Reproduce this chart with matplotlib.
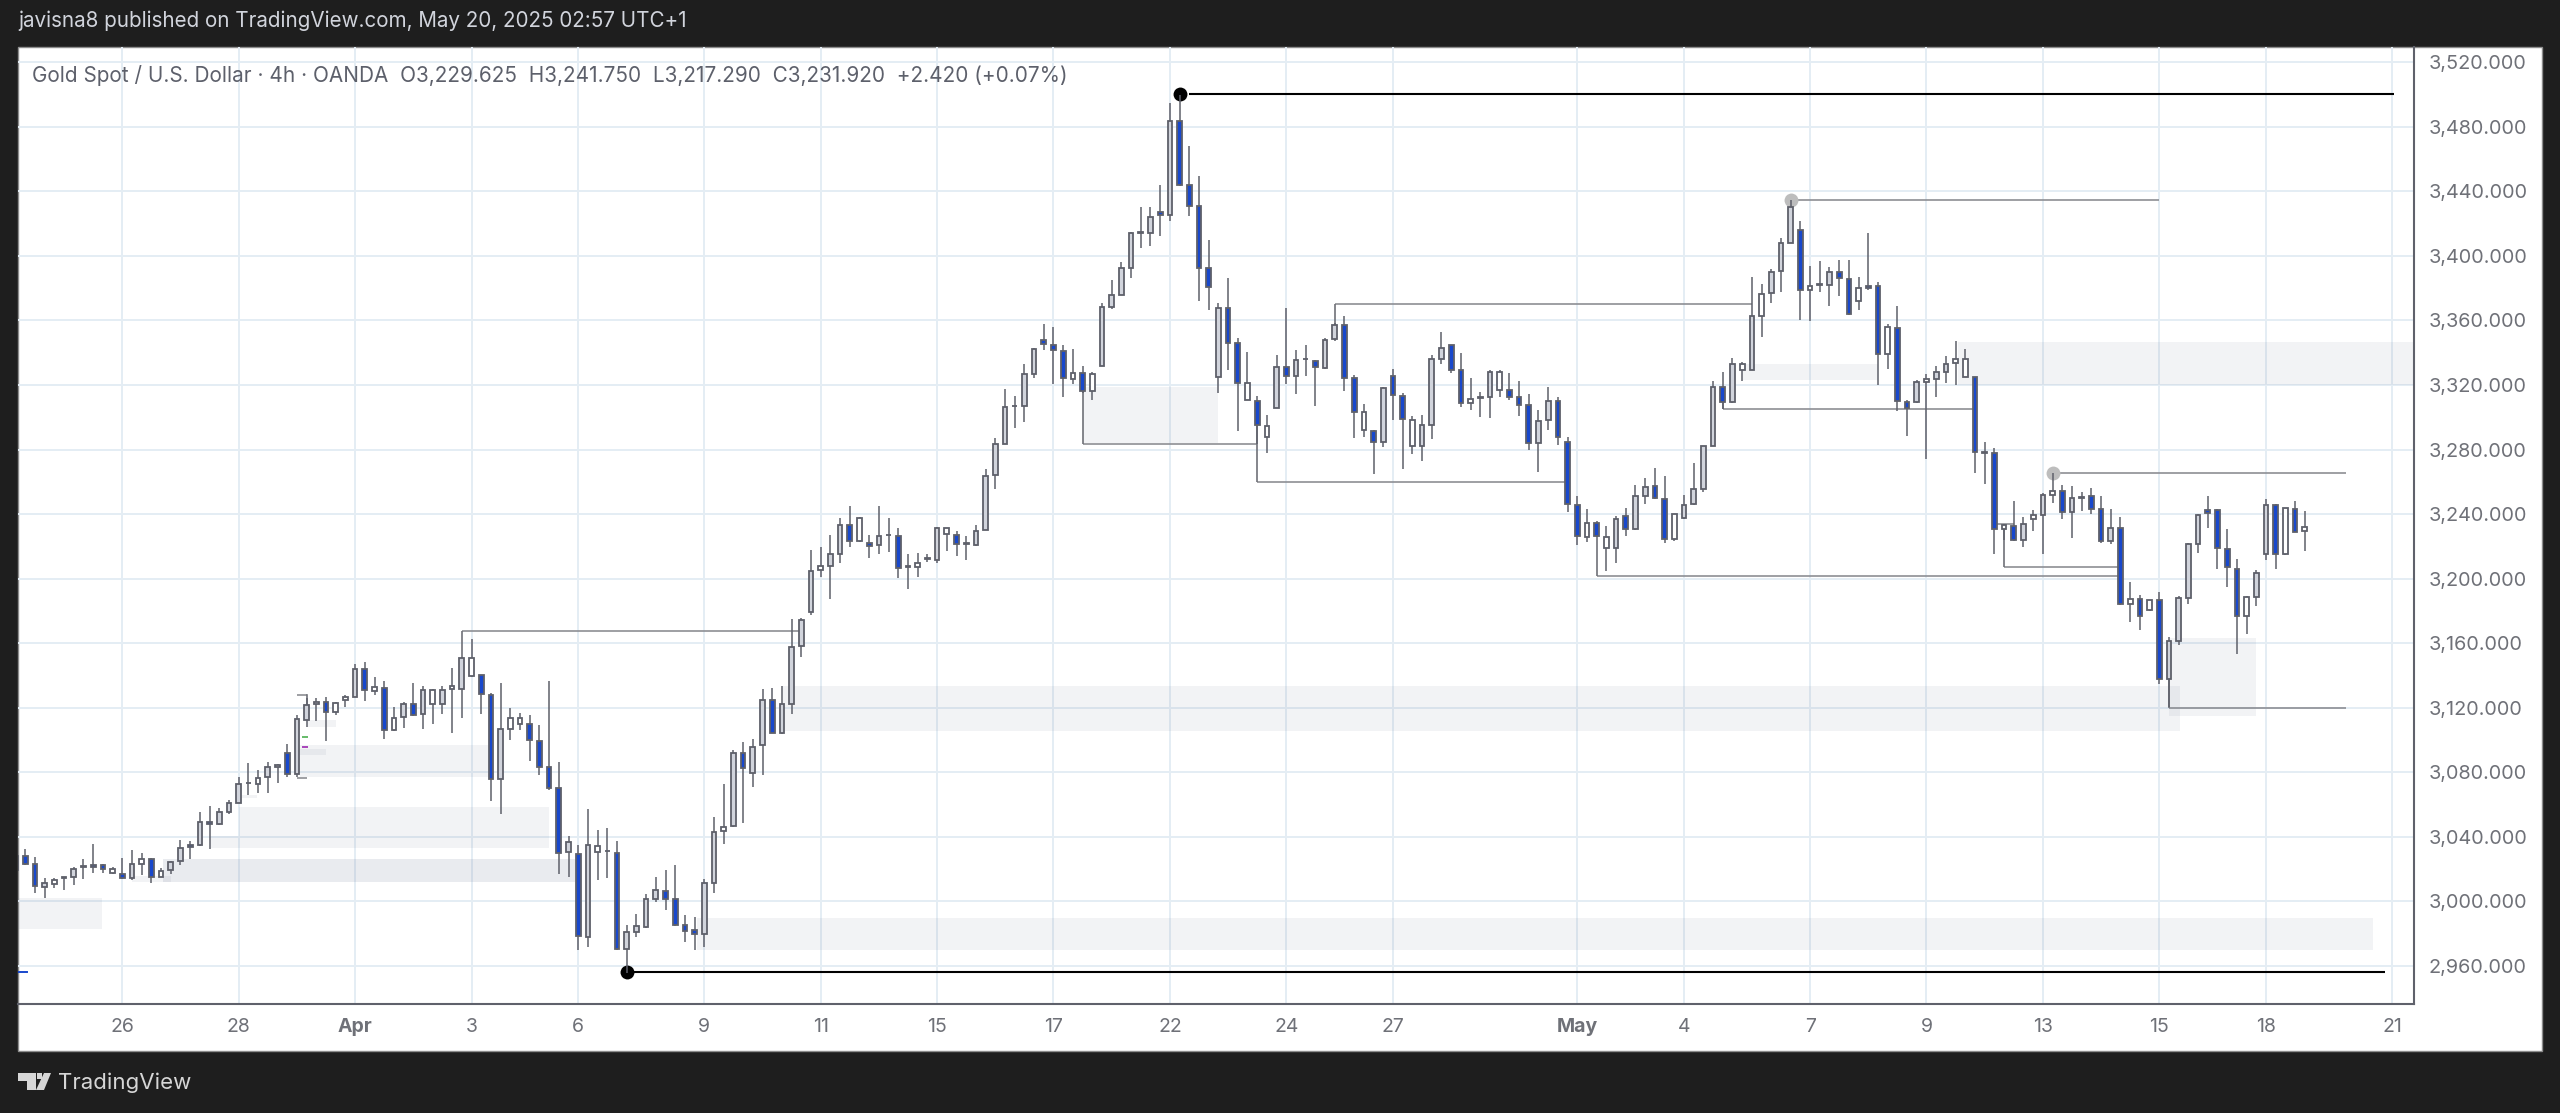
import matplotlib
matplotlib.use("Agg")
import matplotlib.pyplot as plt
from matplotlib.patches import Rectangle, Polygon

plt.rcParams['font.family'] = ['Inter', 'DejaVu Sans']

bar_high = [
 3029.9,3032.4,3027.8,3014.4,3014.4,3015.4,3021.2,3026.2,3035.5,3022.9,
 3021.6,3026.8,3031.6,3029.9,3026.8,3020.6,3025.1,3038.2,3037.5,3055.3,
 3059.3,3057.6,3063,3077,3085.7,3081.4,3086.3,3085.3,3097.7,3115.5,
 3126,3126.2,3126.6,3123.3,3127.7,3147.1,3148.3,3138.8,3136.4,3120.2,
 3123.3,3135.3,3133.3,3131.5,3133.7,3144.6,3151.2,3162.6,3140.5,3128.9,
 3135.3,3119.6,3116.5,3115.5,3109.5,3136.4,3086.7,3040.7,3034.9,3057.2,
 3044,3045.6,3037.5,2985.5,2992.1,3004.5,3015.4,3019.2,3022.5,2991.5,
 2990.4,3013.8,3052.2,3072.7,3094,3099.1,3100.8,3131.6,3132.2,3133.7,
 3175,3175.6,3217.6,3219.8,3226.9,3237.6,3245.3,3238,3226.9,3245.3,
 3237.6,3231.2,3215.5,3216.1,3215.3,3232,3231.6,3229.6,3226.7,3233.3,
 3268,3287.2,3317.5,3313.4,3332.8,3343,3357.6,3356.2,3344.9,3342.3,
 3331.6,3328.3,3370.9,3385.3,3396.3,3415,3430.2,3430.2,3444,3494.5,
 3500,3468,3449.6,3410.1,3370.9,3386.4,3349,3340.3,3313.2,3301.4,
 3338.8,3367.6,3341.5,3344.6,3335.7,3349.4,3358.3,3362.9,3326.5,3308.1,
 3292.4,3319.1,3330,3314.9,3300.7,3301.7,3338.5,3352.7,3344.9,3339.7,
 3324.6,3315.5,3329.2,3329.4,3327.7,3322.4,3314.3,3304.6,3319.1,3312.9,
 3287.6,3251.5,3243,3235.5,3232.4,3239.1,3243.8,3257.9,3262.5,3268.7,
 3263.8,3240.4,3252,3271.8,3282,3322.3,3328.2,3336.9,3334.4,3386.7,
 3382.8,3391.7,3411.3,3434.7,3421.9,3393.8,3397.1,3393.4,3397.5,3397.5,
 3386.7,3414.4,3383.6,3357.8,3369,3310.5,3323.1,3327,3332,3338,
 3347.1,3342.3,3324.9,3284.6,3281.1,3233.8,3248,3238.3,3242.5,3252.8,
 3265.2,3257.8,3257.4,3253.9,3256.3,3251.4,3243.3,3238.4,3197.8,3189.8,
 3187.1,3191.9,3163.9,3189.2,3222.2,3240,3251.4,3243.5,3230.9,3212.5,
 3189.4,3205.3,3249.1,3246.2,3244.1,3248.1,3241.75]

bar_top = [
 3028.3,3028.3,3023.3,3011.3,3013.4,3015.2,3020.4,3021.8,3022.7,3022.7,
 3020.4,3017.3,3023.3,3026.4,3026.4,3018.8,3024.7,3033.4,3035.1,3049.1,
 3049.1,3055.7,3061.1,3072.9,3073.7,3076.6,3083.2,3084.3,3092.3,3113,
 3121.5,3123.7,3123.7,3122.7,3126.6,3144,3144,3133,3132.4,3113.4,
 3122.1,3122.1,3130.8,3130.8,3130.8,3133.5,3150.8,3150.8,3140.1,3128.1,
 3107,3113.8,3113.4,3109.7,3099.4,3083.2,3070.2,3037.1,3029.7,3034.7,
 3034.5,3031.4,3030.3,2980.9,2984.8,3001.6,3006.8,3006.3,3001.6,2985.3,
 2982.2,3011.3,3043.3,3046.4,3091.9,3091.9,3096,3125,3125,3122.1,
 3157.9,3174.6,3205,3207.7,3215.1,3233.1,3233.1,3237.6,3222.3,3226.7,
 3227.3,3226.7,3207.9,3209.9,3212.8,3231.6,3231.4,3227.3,3221.9,3229.4,
 3263.9,3283.3,3306.6,3307.2,3326.6,3342.3,3348.1,3344.8,3341.3,3327.5,
 3327.5,3326.6,3368.2,3375.6,3392.4,3414.3,3414.7,3424,3427.3,3483.9,
 3483.9,3443.8,3431,3392.6,3367.8,3367.8,3345.8,3321,3310.3,3294.6,
 3331,3331,3335.7,3336.3,3335,3348,3357.1,3357.1,3324.2,3303.1,
 3291.8,3318.2,3325.3,3313.5,3298.2,3295.5,3336,3343,3344.7,3329.2,
 3311.2,3312.4,3328.2,3328.2,3317.2,3312.4,3307.5,3297.6,3310.2,3310.2,
 3284.7,3245.9,3234.3,3234.3,3225.6,3237.2,3238.9,3251.3,3257,3257.6,
 3249.5,3239.8,3245.8,3255.5,3282,3319,3318.7,3333.2,3333,3362.6,
 3376.2,3390.3,3408,3430.4,3416.1,3381.6,3382.6,3390.3,3390,3385.9,
 3379.9,3381.2,3381.6,3355.7,3355.5,3309.6,3321.6,3323.7,3328,3332.8,
 3335.9,3336.1,3324.7,3278.6,3278.2,3233,3232.8,3234.2,3239.2,3251.6,
 3254.5,3254.5,3250.1,3250.8,3251.2,3242.9,3231.7,3231.7,3187.7,3187.7,
 3186.7,3186.7,3161.5,3187.9,3221.4,3239.2,3242.5,3242.5,3218.5,3206.1,
 3188.5,3203.6,3245.8,3245.8,3243.7,3243.5,3231.92]

bar_bottom = [
 3019.2,3023.3,3009.6,3009.2,3010.9,3014.8,3015,3021.4,3021.4,3019.8,
 3017.5,3014.6,3014.6,3023.5,3015.4,3015.4,3019.4,3024.9,3034,3035.1,
 3047.9,3047.9,3055.3,3061.3,3073.3,3072.9,3077,3083.6,3078.9,3078.7,
 3112.6,3122.1,3117.1,3117.1,3124.6,3126.8,3130.8,3130.6,3106.4,3106,
 3114.2,3115.5,3116.1,3122.1,3122.1,3131.4,3131.4,3139.7,3128.5,3076,
 3076,3106.8,3109.9,3099.8,3083.6,3070.4,3030.3,3030.5,2978.4,2978.2,
 3030.9,3031.1,2970.4,2970.6,2981.3,2984.4,3001.4,3001.8,2985.7,2981.9,
 2979.7,2979.7,3011.7,3043.5,3046.9,3082.4,3079.7,3096.7,3104.5,3104.5,
 3122.5,3158.3,3179.1,3205.2,3207.9,3215.5,3223.2,3223.2,3220.3,3220.9,
 3226.9,3206.4,3207.4,3207.2,3212.4,3211.8,3227.5,3221.5,3221.5,3220.9,
 3230.2,3264.3,3283.6,3306.8,3306.8,3326.8,3345.4,3341.5,3324.2,3323.9,
 3316.1,3316.1,3331.8,3368.4,3376,3392.8,3414.3,3414.5,3425.2,3425.2,
 3444,3431.2,3392.6,3380.8,3324.8,3346.3,3321.5,3310.7,3295,3288,
 3305.8,3325.8,3325.8,3335.9,3331.4,3330.8,3348.4,3324.6,3303.6,3292.2,
 3285,3285,3313.7,3298.8,3282.5,3282.5,3295.5,3336.4,3329.4,3308.9,
 3308.7,3312,3312.9,3316.8,3312.4,3307.9,3283.9,3284.1,3298.2,3287.8,
 3246.3,3226.2,3226,3226.2,3219,3219.2,3230.6,3230.6,3251,3249.9,
 3224.3,3224.3,3237.5,3246,3255.7,3282.2,3309.2,3309.2,3329.5,3329.3,
 3362.8,3377,3390.5,3408.2,3379.1,3379.1,3382.2,3382.2,3386.5,3363.8,
 3372.1,3380.1,3339.2,3339,3309.9,3305.5,3309.2,3321.6,3323.9,3328,
 3333.4,3324.9,3278.4,3278.2,3230.9,3231.1,3223.7,3223.9,3237.3,3239.6,
 3252,3241.3,3241.3,3250.3,3243.3,3223.3,3223.3,3184.2,3184.6,3176.8,
 3180.5,3137.9,3137.9,3161.5,3188.1,3221.6,3241,3219.1,3207.1,3177,
 3177,3188.9,3215.4,3215.2,3215.6,3228.9,3229.625]

bar_low = [
 3018.5,3022.3,3005.5,3002.2,3008.6,3007.2,3010.3,3014,3017.9,3017.9,
 3017.1,3014.2,3013,3016.5,3011.7,3015,3017.3,3022.7,3026.4,3034.5,
 3032.8,3047.5,3054.1,3060.9,3066.1,3066.9,3067.1,3073.5,3077.4,3077.4,
 3107.8,3112,3099.6,3115.7,3120.2,3126.6,3124,3127.7,3100.6,3105.6,
 3107.6,3115.1,3106.6,3109.7,3116.3,3104.3,3113.6,3139,3116.3,3062.4,
 3054.1,3100,3106,3087.2,3078.5,3069.2,3016.9,3015.4,2969.8,2972,
 3013,3014.8,2970,2955.9,2978.2,2983.4,2999.5,2994.8,2984.8,2974.7,
 2969.8,2971.8,3005.5,3035.7,3046.4,3048.5,3071.2,3078.5,3104.1,3103.5,
 3116.1,3151.4,3177.5,3201.2,3187.2,3209.9,3219.6,3222.9,3213,3215.1,
 3216.3,3200.6,3193.6,3201,3210.1,3209.7,3217.2,3213.9,3211.4,3220.1,
 3230,3255.6,3283.4,3293.1,3296.9,3324.4,3341.7,3320.6,3312.4,3320.6,
 3315,3310.9,3331.6,3367.1,3375.8,3386.4,3405,3406,3412.6,3421.7,
 3443.6,3424.6,3371.9,3366.7,3315,3329.1,3291.3,3310.5,3283.6,3277.8,
 3305.6,3320.6,3314.6,3325.4,3306.8,3329.8,3347.2,3316.4,3287,3287.6,
 3264.7,3281.8,3298.4,3268,3277.3,3273,3286.4,3333.1,3327.3,3306.7,
 3304.8,3300,3299.4,3312.9,3310.8,3301.1,3279.8,3266.3,3292.4,3282.7,
 3241.1,3220.9,3222.9,3225.6,3204.7,3209.5,3226.7,3230.4,3246.2,3249.5,
 3222.2,3223.1,3237.1,3245.6,3253.9,3282,3304.9,3309,3322.7,3329.1,
 3349.9,3371,3377.6,3407.8,3360.3,3359.9,3377.6,3369,3375.4,3363.6,
 3366.3,3378.7,3319.8,3329.9,3304.1,3288.4,3308.6,3274.3,3312.7,3321.4,
 3319.8,3324.7,3265.6,3258.8,3215.4,3223.9,3223.3,3219.7,3229.4,3215.6,
 3247,3237.3,3225.3,3242.1,3240.4,3222.2,3221.4,3183.6,3173.2,3168.1,
 3180.1,3135,3120.5,3158.8,3184.6,3216,3231.7,3206.3,3195,3153.6,
 3165.8,3183.2,3211.7,3206.3,3214.8,3228.7,3217.29]

# b = down bar, g = up bar, w = hollow up bar
bar_kind = ("gbbgwgggbb" "wbgwbwggbg" "bggggwggbg" "gwbwwgbwbw" "gbgwgwgwbb"
            "gwwbbbbgbg" "wgbggggbbb" "bggwgbggbg" "gggwggbwbg" "gbgwggwbgg"
            "ggggggbbbw" "bwggggggbg" "bbbbgbbwbw" "gbggbggbbw" "bgbbwgggbb"
            "wggwbbbggb" "bbwbwgbggb" "bwggggbgwg" "wgggbwggbb" "wbbwbbgwgg"
            "wwbgbwbgwg" "wbggbbgbwb" "wbggggbbbb" "wggbwbw")

price_ticks = list(range(2960, 3521, 40))
time_ticks = [11, 23, 35, 47, 58, 71, 83, 95, 107, 119, 131, 142, 161, 172, 185, 197, 209, 221, 232, 245]
time_labels = ['26', '28', 'Apr', '3', '6', '9', '11', '15', '17', '22', '24', '27', 'May', '4', '7', '9', '13', '15', '18', '21']

# first bar, last bar, upper price, lower price
zones_light = [
    (-2, 8.9, 3002.2, 2983.2), (23, 55, 3058.6, 3033.4), (20, 23, 3040.7, 3033.4),
    (29.3, 48.7, 3097.1, 3077.4), (79.1, 223.1, 3133.7, 3105.4), (70.2, 243, 2990, 2970),
    (110, 124, 3318.6, 3284), (178, 192, 3333, 3323), (200.2, 250, 3346.7, 3320),
    (222, 231, 3163.5, 3114.8), (23.3, 24.9, 3065.9, 3064.2), (30, 33, 3112.4, 3108.4),
    (29, 32, 3094.6, 3090.5), (12, 16, 3015.5, 3012.3)]
zones_dark = [(15.2, 57.7, 3026.4, 3012.3)]

# level lines: first bar, last bar, price, price the line drops from at its first bar
gray_levels = [
    (46, 81, 3167.6, 3150.8), (110, 128, 3283.6, 3316.1), (128, 160, 3260, 3295),
    (136, 179, 3370, 3357.1), (183.8, 221, 3434.7, 3434.7), (176, 202, 3305.1, 3309.2),
    (205, 217, 3207.2, 3231.1), (163, 217, 3201.5, 3226.2), (210.8, 240.2, 3265.2, 3265.2),
    (222, 240.2, 3120.1, 3137.9), (204, 206, 3233.8, 3233.8), (29, 30, 3076.8, 3076.8),
    (29, 30, 3128.1, 3128.1)]
# marked bar, bar the line starts at, last bar, price
black_levels = [(120, 121, 245.2, 3500.3), (63, 63.65, 244.3, 2956.1)]
gray_marks = [(183, 3434.7), (210, 3265.2)]

title_text = "javisna8 published on TradingView.com, May 20, 2025 02:57 UTC+1"
legend_text = ("Gold Spot / U.S. Dollar \u00b7 4h \u00b7 OANDA  O3,229.625  H3,241.750  "
               "L3,217.290  C3,231.920  +2.420 (+0.07%)")

W, H = 2560, 1113
DARK = '#1e1e1e'
fig = plt.figure(figsize=(W / 100, H / 100), dpi=100, facecolor=DARK)
bg = fig.add_axes([0, 0, 1, 1], zorder=0)
bg.set_xlim(0, W)
bg.set_ylim(H, 0)
bg.axis('off')
bg.add_patch(Rectangle((18, 47), 2524, 1004, facecolor='white', edgecolor='#8c8c8c', lw=1))
bg.text(18, 21, title_text, color='#d1d4dc', fontsize=14.85, va='center', ha='left')
bg.text(58, 1083, 'TradingView', color='#d6d6d6', fontsize=16, va='center', ha='left')
bg.add_patch(Polygon([(18, 1073), (36, 1073), (36, 1090), (27, 1090), (27, 1081), (18, 1081)], facecolor='#d6d6d6', lw=0))
bg.add_patch(Polygon([(44, 1073), (51, 1073), (44, 1090), (36, 1090)], facecolor='#d6d6d6', lw=0))
bg.add_patch(Rectangle((36.5, 1073), 5, 5.5, facecolor='#d6d6d6', lw=0))

ax = fig.add_axes([18 / W, 1 - 1003.5 / H, (2414 - 18) / W, (1003.5 - 47) / H], zorder=1)
ax.patch.set_alpha(0)
ax.set_xlim((18 - 15.6) / 9.7, (2414 - 15.6) / 9.7)
ax.set_ylim(2960 - (1003.5 - 966) / 1.6138, 3520 + (62.3 - 47) / 1.6138)

ax.set_yticks(price_ticks)
ax.set_yticklabels([f"{p:,.3f}" for p in price_ticks])
ax.set_xticks(time_ticks)
ax.set_xticklabels(time_labels)
ax.yaxis.tick_right()
ax.tick_params(axis='y', length=0, pad=10.5, labelsize=14.3, labelcolor='#6f7178')
ax.tick_params(axis='x', length=0, pad=10.5, labelsize=14, labelcolor='#6f7178')
for lab in ax.get_xticklabels():
    if lab.get_text() in ('Apr', 'May'):
        lab.set_fontweight('bold')
ax.grid(True, color='#e4edf4', lw=1.4, zorder=0)
ax.set_axisbelow(True)
for s in ('left', 'top'):
    ax.spines[s].set_visible(False)
for s in ('right', 'bottom'):
    ax.spines[s].set_color('#5f616b')
    ax.spines[s].set_linewidth(1.5)

for x0, x1, top, bot in zones_light:
    ax.add_patch(Rectangle((x0, bot), x1 - x0, top - bot, facecolor='#6f7a96', alpha=0.09, lw=0, zorder=1))
for x0, x1, top, bot in zones_dark:
    ax.add_patch(Rectangle((x0, bot), x1 - x0, top - bot, facecolor='#6f7a96', alpha=0.15, lw=0, zorder=1))

for x0, x1, price, start in gray_levels:
    ax.plot([x0, x1], [price, price], color='#8d8f94', lw=1.2, zorder=2, solid_capstyle='butt')
    ax.plot([x0, x0], [start, price], color='#6f7178', lw=1.2, zorder=2, solid_capstyle='butt')
ax.plot([30, 30], [3128.1, 3121.5], color='#6f7178', lw=1.2, zorder=2)
ax.plot([29.5, 30.1], [3102, 3102], color='#4caf50', lw=1.2, zorder=2, solid_capstyle='butt')
ax.plot([29.5, 30.1], [3096, 3096], color='#9c27b0', lw=1.2, zorder=2, solid_capstyle='butt')
ax.plot([-1, 1.2], [2956, 2956], color='#1848cc', lw=1.4, zorder=2)

for mark, start, x1, price in black_levels:
    ax.plot([start, x1], [price, price], color='black', lw=1.5, zorder=2, solid_capstyle='butt')
    ax.plot([mark], [price], 'o', color='black', ms=10, mew=0, zorder=3)
for x0, price in gray_marks:
    ax.plot([x0], [price], 'o', color='#bdbdbd', ms=10, mew=0, zorder=3)

EDGE = '#5e606a'
FILLS = {'b': '#1848cc', 'g': '#d1d4dc', 'w': 'white'}
positions = list(range(len(bar_high)))
ax.vlines(positions, bar_low, bar_high, color=EDGE, lw=1.1, zorder=4)
ax.bar(positions, [t - b for t, b in zip(bar_top, bar_bottom)], bottom=bar_bottom, width=0.48,
       color=[FILLS[k] for k in bar_kind], edgecolor=EDGE, linewidth=1.3, zorder=5)

ax.text(32, 75, legend_text, transform=bg.transData, color='#5d606b', fontsize=14.95, va='center', ha='left', zorder=6)

fig.savefig('out.png', dpi=100, facecolor=DARK)
